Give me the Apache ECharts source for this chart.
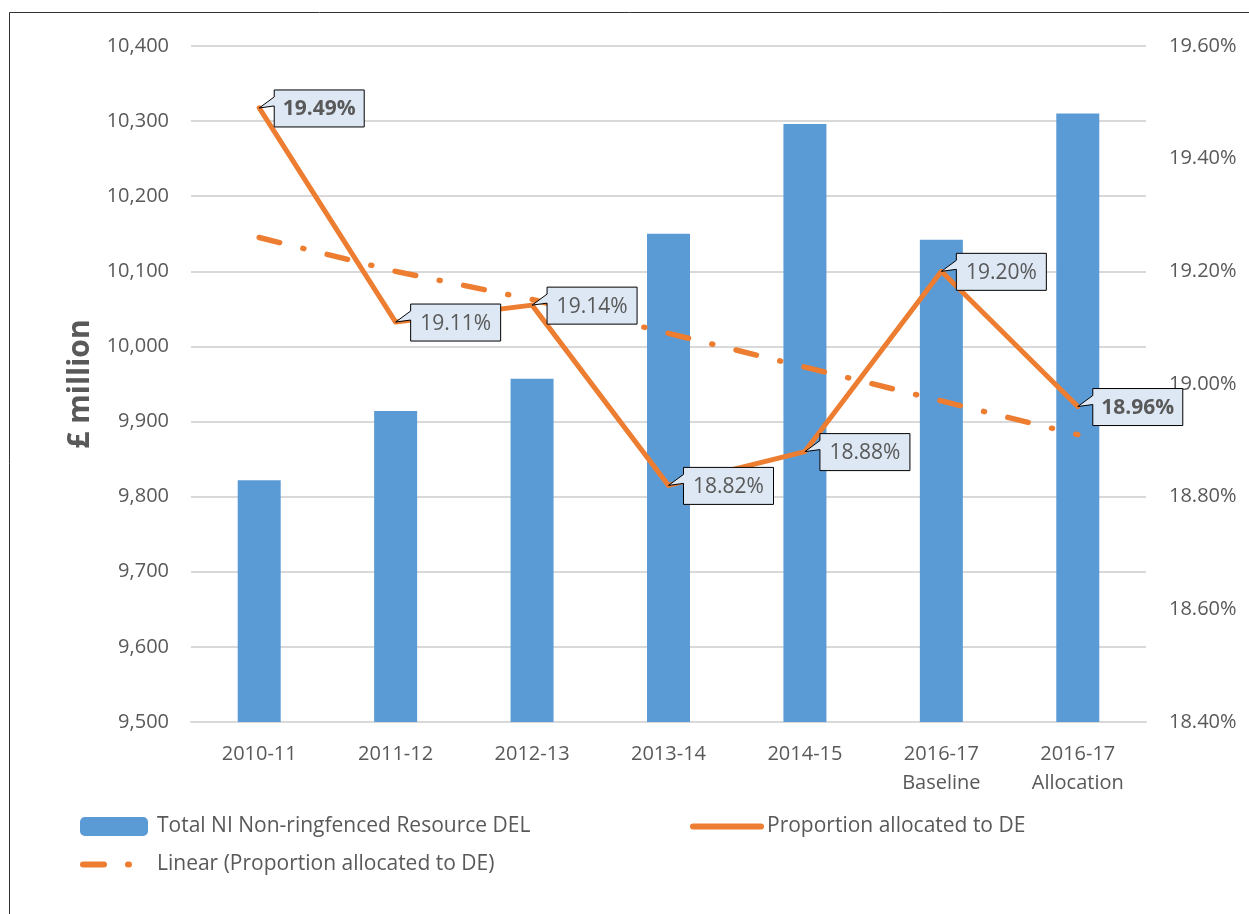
<!DOCTYPE html>
<html>
<head>
<meta charset="utf-8">
<script src="https://cdn.jsdelivr.net/npm/echarts@6/dist/echarts.min.js"></script>
<style>
  html, body { margin: 0; padding: 0; background: #fff; }
  #chart { width: 1249px; height: 914px; }
</style>
</head>
<body>
<div id="chart"></div>
<script>
const FONT = '"Open Sans", "Noto Sans", sans-serif';
const GREY = '#595959';

const years = ['2010-11', '2011-12', '2012-13', '2013-14', '2014-15', '2016-17\nBaseline', '2016-17\nAllocation'];
const resourceDel = [9822, 9914, 9957, 10150, 10296, 10142, 10310];
const shareDE = [19.49, 19.11, 19.14, 18.82, 18.88, 19.20, 18.96];
const shareTrend = [19.26, 19.20, 19.15, 19.09, 19.03, 18.97, 18.91];
const leftTicks = { min: 9500, max: 10400, interval: 100 };
const rightTicks = { min: 18.4, max: 19.6, interval: 0.2 };
const boldLabels = [0, 6];

const NAME_BAR = 'Total NI Non-ringfenced Resource DEL';
const NAME_LINE = 'Proportion allocated to DE';
const NAME_TREND = 'Linear (Proportion allocated to DE)';

const chart = echarts.init(document.getElementById('chart'), null, { renderer: 'canvas' });

// callout box with a little pointer wedge back to the data point
function renderCallout(params, api) {
    const p = api.coord([api.value(0), api.value(1)]);
    const x = p[0], y = p[1];
    const bold = boldLabels.includes(params.dataIndex);
    const L = x + 15, T = y - 18, B = y + 19, R = L + 90;
    return {
        type: 'group',
        children: [
            {
                type: 'polygon',
                shape: { points: [[L, T], [R, T], [R, B], [L, B], [L, T + 16], [x, y], [L, T + 7]] },
                style: { fill: '#dde8f4', stroke: '#000', lineWidth: 1 },
            },
            {
                type: 'text',
                style: {
                    text: api.value(1).toFixed(2) + '%',
                    x: (L + R) / 2,
                    y: (T + B) / 2 + 1,
                    align: 'center',
                    verticalAlign: 'middle',
                    font: (bold ? 'bold ' : '') + '21px ' + FONT,
                    fill: GREY,
                },
            },
        ],
    };
}

const legendBase = {
    orient: 'horizontal',
    padding: 0,
    itemWidth: 68,
    itemHeight: 19,
    itemGap: 20,
    textStyle: { fontFamily: FONT, fontSize: 21, color: GREY, padding: [0, 0, 0, 4] },
};
// line legends: keep a thick stroke, hide the default circle marker
const lineLegend = {
    itemStyle: { opacity: 0, borderWidth: 0 },
    lineStyle: { width: 6, cap: 'round' },
    textStyle: Object.assign({}, legendBase.textStyle, { padding: [0, 0, 0, 1] }),
};

chart.setOption({
    animation: false,
    textStyle: { fontFamily: FONT },
    graphic: [{
        type: 'rect',
        shape: { x: 9.5, y: 12.5, width: 1400, height: 1000 },
        style: { fill: 'none', stroke: '#333', lineWidth: 1 },
        silent: true,
    }],
    grid: { left: 191, right: 103, top: 46, bottom: 192 },
    legend: [
        Object.assign({}, legendBase, { left: 80, top: 816, data: [NAME_BAR] }),
        Object.assign({}, legendBase, lineLegend, { left: 690, top: 816, data: [NAME_LINE] }),
        Object.assign({}, legendBase, lineLegend, { left: 80, top: 854, data: [NAME_TREND] }),
    ],
    xAxis: {
        type: 'category',
        data: years,
        axisLine: { lineStyle: { color: '#d9d9d9', width: 2 } },
        axisTick: { show: false },
        axisLabel: { fontSize: 20, color: GREY, margin: 18, lineHeight: 29 },
    },
    yAxis: [
        {
            type: 'value',
            min: leftTicks.min,
            max: leftTicks.max,
            interval: leftTicks.interval,
            name: '£ million',
            nameLocation: 'middle',
            nameGap: 88,
            nameTextStyle: { fontSize: 30, fontWeight: 'bold', color: GREY },
            axisLine: { show: false },
            axisTick: { show: false },
            axisLabel: {
                fontSize: 20, color: GREY, margin: 22,
                formatter: v => v.toLocaleString('en-GB'),
            },
            splitLine: { lineStyle: { color: '#d9d9d9', width: 2 } },
        },
        {
            type: 'value',
            min: rightTicks.min,
            max: rightTicks.max,
            interval: rightTicks.interval,
            axisLine: { show: false },
            axisTick: { show: false },
            axisLabel: {
                fontSize: 20, color: GREY, margin: 23,
                formatter: v => v.toFixed(2) + '%',
            },
            splitLine: { show: false },
        },
    ],
    series: [
        {
            name: NAME_BAR,
            type: 'bar',
            data: resourceDel,
            barWidth: 43,
            itemStyle: { color: '#5b9bd5' },
        },
        {
            name: NAME_LINE,
            type: 'line',
            yAxisIndex: 1,
            data: shareDE,
            symbol: 'none',
            lineStyle: { color: '#ed7d31', width: 5, join: 'round', cap: 'round' },
            itemStyle: { color: '#ed7d31' },
            z: 3,
        },
        {
            name: NAME_TREND,
            type: 'line',
            yAxisIndex: 1,
            data: shareTrend,
            symbol: 'none',
            lineStyle: { color: '#ed7d31', width: 5.5, type: [21, 24, 1, 24], cap: 'round' },
            itemStyle: { color: '#ed7d31' },
            z: 2,
        },
        {
            type: 'custom',
            yAxisIndex: 1,
            data: shareDE.map((v, i) => [i, v]),
            renderItem: renderCallout,
            silent: true,
            z: 10,
        },
    ],
});
</script>
</body>
</html>
